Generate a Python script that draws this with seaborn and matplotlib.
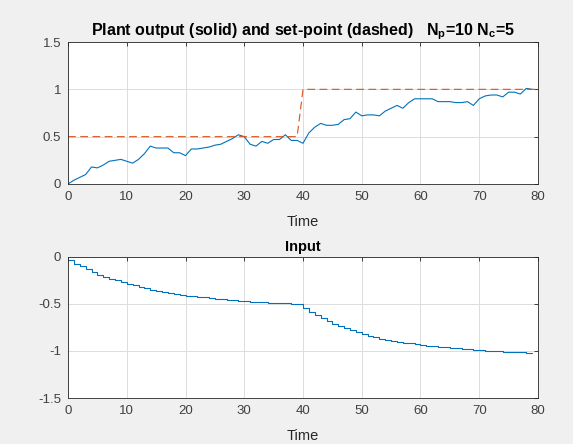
import numpy as np
import pandas as pd
import seaborn as sns
import matplotlib.pyplot as plt

# salida de la planta (k = 0..79)
t_y = np.arange(80)
y = [0.00, 0.04, 0.07, 0.10, 0.18, 0.17, 0.20, 0.24, 0.25, 0.26,
     0.24, 0.22, 0.26, 0.32, 0.40, 0.38, 0.38, 0.38, 0.33, 0.33,
     0.30, 0.37, 0.37, 0.38, 0.39, 0.41, 0.42, 0.45, 0.48, 0.52,
     0.50, 0.42, 0.40, 0.45, 0.43, 0.47, 0.47, 0.52, 0.46, 0.46,
     0.43, 0.54, 0.60, 0.64, 0.62, 0.62, 0.63, 0.68, 0.69, 0.76,
     0.72, 0.73, 0.73, 0.72, 0.77, 0.80, 0.83, 0.80, 0.86, 0.90,
     0.90, 0.90, 0.90, 0.87, 0.87, 0.87, 0.86, 0.86, 0.87, 0.83,
     0.90, 0.93, 0.94, 0.94, 0.92, 0.97, 0.97, 0.95, 1.01, 1.00]

# set-point (k = 0..80)
t_r = np.arange(81)
r = [0.5] * 40 + [1.0] * 41

# entrada (k = 0..79)
t_u = np.arange(80)
u = [-0.03, -0.07, -0.10, -0.13, -0.16, -0.19, -0.21, -0.23, -0.25, -0.27,
     -0.29, -0.30, -0.32, -0.33, -0.35, -0.36, -0.37, -0.38, -0.39, -0.40,
     -0.41, -0.42, -0.43, -0.43, -0.44, -0.45, -0.45, -0.46, -0.46, -0.47,
     -0.47, -0.48, -0.48, -0.48, -0.49, -0.49, -0.49, -0.49, -0.50, -0.50,
     -0.54, -0.58, -0.62, -0.65, -0.68, -0.71, -0.73, -0.76, -0.78, -0.80,
     -0.82, -0.84, -0.85, -0.87, -0.88, -0.89, -0.90, -0.91, -0.92, -0.93,
     -0.94, -0.95, -0.95, -0.96, -0.96, -0.97, -0.97, -0.98, -0.98, -0.99,
     -0.99, -1.00, -1.00, -1.00, -1.01, -1.01, -1.01, -1.01, -1.02, -1.02]

sns.set_style('white')
plt.rcParams['font.family'] = ['Liberation Sans', 'DejaVu Sans']
plt.rcParams['mathtext.fontset'] = 'custom'
plt.rcParams['mathtext.rm'] = 'Liberation Sans'
plt.rcParams['mathtext.bf'] = 'Liberation Sans:bold'

azul = '#0072BD'
naranja = '#D95319'
oscuro = '#262626'

fig = plt.figure(figsize=(5.73, 4.44), dpi=100, facecolor='#f0f0f0')
ax1 = fig.add_axes([0.1187, 0.5856, 0.8202, 0.3198])
ax2 = fig.add_axes([0.1187, 0.1036, 0.8202, 0.3176])

sns.lineplot(x=t_y, y=y, ax=ax1, color=azul, linewidth=0.8)
sns.lineplot(x=t_r, y=r, ax=ax1, color=naranja, linewidth=0.8,
             linestyle=(0, (7, 4)))
sns.lineplot(x=t_u, y=u, ax=ax2, color=azul, linewidth=0.8,
             drawstyle='steps-post')

ax1.set_xlim(0, 80)
ax1.set_ylim(0, 1.5)
ax1.set_yticks([0, 0.5, 1, 1.5])
ax1.set_yticklabels(['0', '0.5', '1', '1.5'])
ax1.set_title(r'Plant output (solid) and set-point (dashed)   '
              r'$\mathbf{N_p}$=10 $\mathbf{N_c}$=5',
              fontsize=11.5, fontweight='bold', color='black', pad=5)

ax2.set_xlim(0, 80)
ax2.set_ylim(-1.5, 0)
ax2.set_yticks([-1.5, -1, -0.5, 0])
ax2.set_yticklabels(['-1.5', '-1', '-0.5', '0'])
ax2.set_title('Input', fontsize=10.5, fontweight='bold', color='black', pad=4)

for ax in (ax1, ax2):
    ax.set_facecolor('white')
    ax.set_xticks(range(0, 81, 10))
    ax.set_xlabel('Time', fontsize=10.5, color=oscuro, labelpad=9)
    ax.grid(True, color='#dcdcdc', linewidth=0.7)
    ax.set_axisbelow(True)
    ax.tick_params(direction='in', length=3, width=0.6, colors=oscuro,
                   labelsize=9.5, top=True, right=True, labelcolor='#404040',
                   pad=5)
    for s in ax.spines.values():
        s.set_color(oscuro)
        s.set_linewidth(0.6)

fig.savefig('out.png', dpi=100, facecolor=fig.get_facecolor())
